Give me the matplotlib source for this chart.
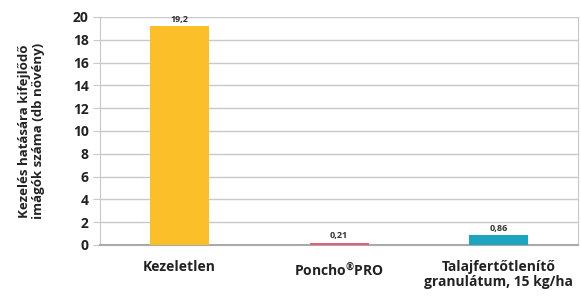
import numpy as np
import matplotlib.pyplot as plt

plt.rcParams['font.family'] = ['Open Sans', 'DejaVu Sans']
plt.rcParams['mathtext.default'] = 'regular'

categories = ["Kezeletlen", "Poncho$^{®}$PRO", "Talajfertőtlenítő\ngranulátum, 15 kg/ha"]
values = [19.2, 0.21, 0.86]
value_labels = ["19,2", "0,21", "0,86"]
colors = ["#FBBF2A", "#E0607A", "#1BA5C0"]
yticks = np.arange(0, 21, 2)

fig = plt.figure(figsize=(5.81, 2.98), dpi=100)
ax = fig.add_axes([0.172, 0.178, 0.823, 0.765])

x = np.arange(len(categories))
ax.bar(x, values, width=0.37, color=colors, zorder=3)

for xi, v, lab in zip(x, values, value_labels):
    ax.text(xi, v + 0.2, lab, ha='center', va='bottom', fontsize=6.5,
            fontweight='bold', color='#333333', zorder=4)

ax.set_xlim(-0.5, 2.5)
ax.set_ylim(0, 20)
ax.set_yticks(yticks)
ax.set_yticklabels([str(t) for t in yticks], fontsize=10, fontweight='bold', color='#222222')
ax.yaxis.grid(True, color='#c8c8c8', linewidth=1, zorder=0)
ax.tick_params(axis='y', length=5, color='#c8c8c8', pad=3)
ax.tick_params(axis='x', length=0, pad=11)
ax.set_xticks(x)
ax.set_xticklabels(categories, fontsize=10, fontweight='bold', color='#222222',
                   linespacing=1.1)

for s in ['left', 'right', 'bottom', 'top']:
    ax.spines[s].set_color('#c8c8c8')
ax.spines['top'].set_visible(False)
ax.spines['bottom'].set_color('#aaaaaa')
ax.spines['bottom'].set_linewidth(1.5)

ax.set_ylabel("Kezelés hatására kifejlődő\nimágók száma (db növény)", fontsize=9.5,
              fontweight='bold', color='#222222', labelpad=20, linespacing=1.1)

fig.savefig("out.png", dpi=100)
